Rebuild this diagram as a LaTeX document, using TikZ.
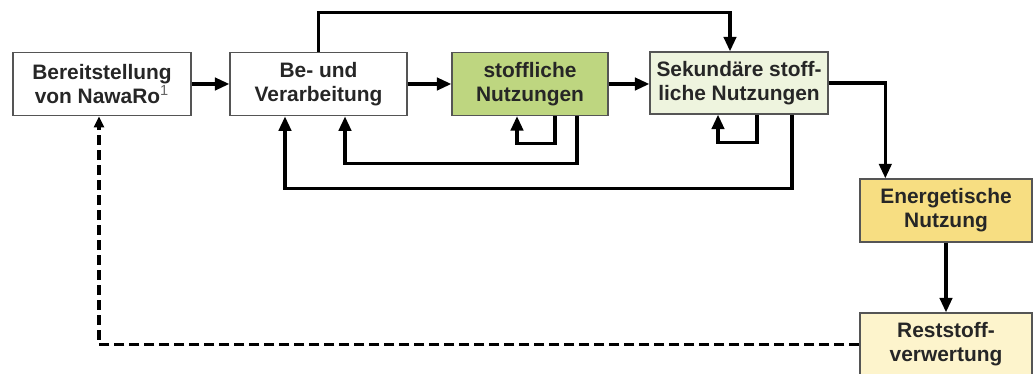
\documentclass[tikz,border=0pt]{standalone}
\usepackage{fontspec}
\setmainfont{Liberation Sans}
\usepackage{tikz}
\usetikzlibrary{arrows.meta,calc}
\definecolor{stoffgruen}{RGB}{190,214,128}
\definecolor{sekgruen}{RGB}{238,244,222}
\definecolor{energgelb}{RGB}{247,222,130}
\definecolor{restgelb}{RGB}{253,244,204}
\definecolor{rand}{RGB}{85,85,85}
\tikzset{
  kasten/.style={draw=rand,line width=0.8pt,rectangle,align=center,inner sep=0pt,
    font=\fontsize{11.9}{13.8}\selectfont\bfseries,text=black!85},
  pfeil/.style={-{Triangle[length=0.29cm,width=0.25cm]},line width=1.75pt,line join=miter},
  rueck/.style={-{Triangle[length=0.22cm,width=0.2cm]},line width=1.75pt,dash pattern=on 0.2cm off 0.1cm}
}
\begin{document}
\begin{tikzpicture}[x=0.02cm,y=-0.02cm]
    \useasboundingbox (0,0) rectangle (1034,374);
    \node[kasten,minimum width=3.56cm,minimum height=1.27cm] (bereit) at (102,84) {Bereitstellung\\von NawaRo\textsuperscript{\mdseries\color{black!60}1}};
    \node[kasten,minimum width=3.54cm,minimum height=1.27cm] (verarb) at (318.5,84) {Be- und\\Verarbeitung};
    \node[kasten,fill=stoffgruen,minimum width=3.12cm,minimum height=1.26cm] (stoff) at (530,84) {stoffliche\\Nutzungen};
    \node[kasten,fill=sekgruen,minimum width=3.56cm,minimum height=1.24cm] (sekund) at (739,83) {Sekundäre stoff-\\liche Nutzungen};
    \node[kasten,fill=energgelb,minimum width=3.44cm,minimum height=1.26cm] (energ) at (946,210.5) {Energetische\\Nutzung};
    \node[kasten,fill=restgelb,minimum width=3.44cm,minimum height=1.26cm] (rest) at (946,344.5) {Reststoff-\\verwertung};
    % Hauptkette
    \draw[pfeil] (bereit) -- (verarb);
    \draw[pfeil] (verarb) -- (stoff);
    \draw[pfeil] (stoff.east) -- (stoff.east -| sekund.west);
    \draw[pfeil] (verarb.north) -- ++(0,-39.5) -| ($(sekund.north)+(-9,0)$);
    \draw[pfeil] (sekund.east) -| ($(energ.north west)+(26,0)$);
    \draw[pfeil] (energ) -- (rest);
    % Kreislaeufe
    \draw[pfeil] ($(stoff.south)+(25,0)$) -- ++(0,27) -| ($(stoff.south)+(-13,0)$);
    \draw[pfeil] ($(sekund.south)+(18,0)$) -- ++(0,28) -| ($(sekund.south)+(-21,0)$);
    \draw[pfeil] ($(stoff.south)+(47,0)$) -- ++(0,47.5) -| ($(verarb.south)+(26.5,0)$);
    \draw[pfeil] ($(sekund.south)+(53,0)$) -- ++(0,73.5) -| ($(verarb.south)+(-33.5,0)$);
    \draw[rueck] (rest.west) -| ($(bereit.south)+(-3,0)$);
\end{tikzpicture}
\end{document}
